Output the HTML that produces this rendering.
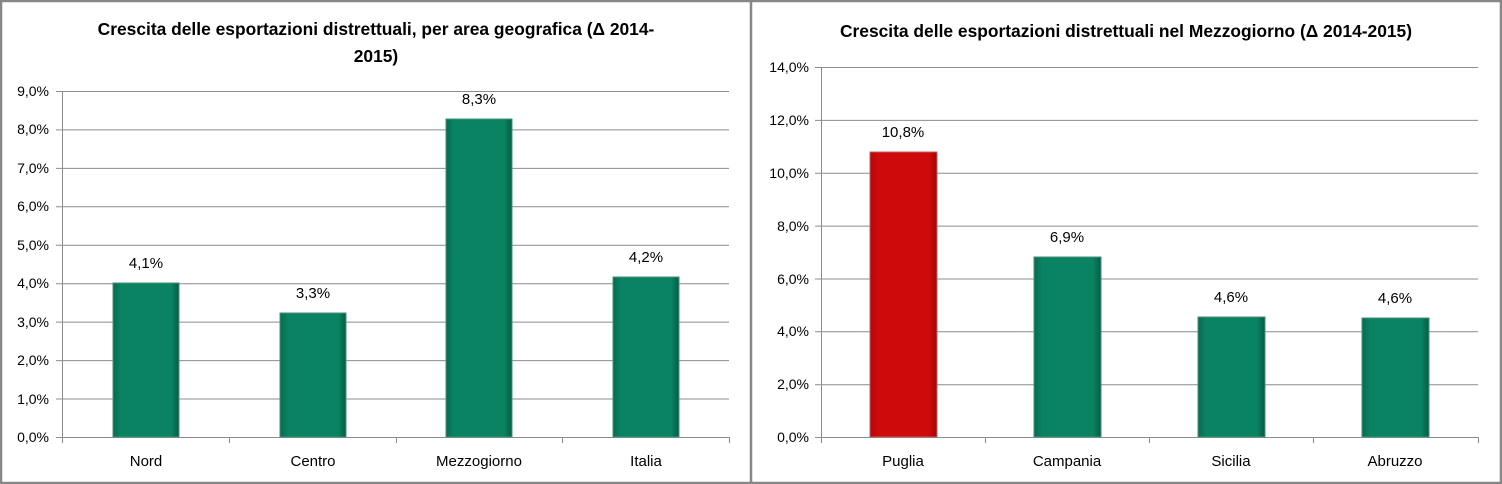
<!DOCTYPE html>
<html><head><meta charset="utf-8"><style>
html,body{margin:0;padding:0;background:#fff}
svg{display:block}
text{font-family:"Liberation Sans",sans-serif;fill:#000}
</style></head><body>
<svg width="1502" height="484" viewBox="0 0 1502 484" xmlns="http://www.w3.org/2000/svg">
<defs>
<linearGradient id="g" x1="0" x2="1" y1="0" y2="0">
<stop offset="0" stop-color="#066b4f"/><stop offset="0.12" stop-color="#0a8363"/><stop offset="0.88" stop-color="#0a8363"/><stop offset="1" stop-color="#055c44"/>
</linearGradient>
<linearGradient id="r" x1="0" x2="1" y1="0" y2="0">
<stop offset="0" stop-color="#b30808"/><stop offset="0.12" stop-color="#cf0a0a"/><stop offset="0.88" stop-color="#cf0a0a"/><stop offset="1" stop-color="#a00707"/>
</linearGradient>
</defs>
<rect x="1" y="1" width="1500" height="482" fill="#fff" stroke="#878787" stroke-width="2.5"/>
<line x1="751" y1="0" x2="751" y2="484" stroke="#878787" stroke-width="2.5"/>

<!-- LEFT -->
<g font-size="17.4" font-weight="bold" text-anchor="middle">
<text x="376" y="35">Crescita delle esportazioni distrettuali, per area geografica (Δ 2014-</text>
<text x="376" y="62">2015)</text>
</g>
<g stroke="#8c8c8c" stroke-width="1">
<line x1="56" y1="91.5" x2="729" y2="91.5"/>
<line x1="56" y1="129.9" x2="729" y2="129.9"/>
<line x1="56" y1="168.4" x2="729" y2="168.4"/>
<line x1="56" y1="206.8" x2="729" y2="206.8"/>
<line x1="56" y1="245.2" x2="729" y2="245.2"/>
<line x1="56" y1="283.7" x2="729" y2="283.7"/>
<line x1="56" y1="322.1" x2="729" y2="322.1"/>
<line x1="56" y1="360.6" x2="729" y2="360.6"/>
<line x1="56" y1="399" x2="729" y2="399"/>
<line x1="56" y1="437.5" x2="729" y2="437.5"/>
<line x1="62.5" y1="91" x2="62.5" y2="443"/>
<line x1="229.5" y1="437" x2="229.5" y2="443"/>
<line x1="396.5" y1="437" x2="396.5" y2="443"/>
<line x1="562.5" y1="437" x2="562.5" y2="443"/>
<line x1="729.5" y1="437" x2="729.5" y2="443"/>
</g>
<g font-size="14" text-anchor="end">
<text x="49" y="96">9,0%</text><text x="49" y="134">8,0%</text><text x="49" y="173">7,0%</text>
<text x="49" y="211">6,0%</text><text x="49" y="250">5,0%</text><text x="49" y="288">4,0%</text>
<text x="49" y="327">3,0%</text><text x="49" y="365">2,0%</text><text x="49" y="404">1,0%</text>
<text x="49" y="442">0,0%</text>
</g>
<g stroke="#4a8f7a" stroke-width="1">
<rect x="113" y="283" width="66" height="154" fill="url(#g)"/>
<rect x="280" y="313" width="66" height="124" fill="url(#g)"/>
<rect x="446" y="119" width="66" height="318" fill="url(#g)"/>
<rect x="613" y="277" width="66" height="160" fill="url(#g)"/>
</g>
<g font-size="15" text-anchor="middle">
<text x="146" y="268">4,1%</text><text x="313" y="298">3,3%</text>
<text x="479" y="104">8,3%</text><text x="646" y="262">4,2%</text>
<text x="146" y="466">Nord</text><text x="313" y="466">Centro</text>
<text x="479" y="466">Mezzogiorno</text><text x="646" y="466">Italia</text>
</g>

<!-- RIGHT -->
<text x="1126" y="37" font-size="17.4" font-weight="bold" text-anchor="middle">Crescita delle esportazioni distrettuali nel Mezzogiorno (Δ 2014-2015)</text>
<g stroke="#8c8c8c" stroke-width="1">
<line x1="815" y1="67.5" x2="1478" y2="67.5"/>
<line x1="815" y1="120.4" x2="1478" y2="120.4"/>
<line x1="815" y1="173.2" x2="1478" y2="173.2"/>
<line x1="815" y1="226.1" x2="1478" y2="226.1"/>
<line x1="815" y1="279" x2="1478" y2="279"/>
<line x1="815" y1="331.8" x2="1478" y2="331.8"/>
<line x1="815" y1="384.7" x2="1478" y2="384.7"/>
<line x1="815" y1="437.5" x2="1478" y2="437.5"/>
<line x1="821.5" y1="67" x2="821.5" y2="443"/>
<line x1="985.5" y1="437" x2="985.5" y2="443"/>
<line x1="1149.5" y1="437" x2="1149.5" y2="443"/>
<line x1="1313.5" y1="437" x2="1313.5" y2="443"/>
<line x1="1478.5" y1="437" x2="1478.5" y2="443"/>
</g>
<g font-size="14" text-anchor="end">
<text x="809" y="72">14,0%</text><text x="809" y="125">12,0%</text><text x="809" y="178">10,0%</text>
<text x="809" y="231">8,0%</text><text x="809" y="284">6,0%</text><text x="809" y="336">4,0%</text>
<text x="809" y="389">2,0%</text><text x="809" y="442">0,0%</text>
</g>
<g stroke-width="1">
<rect x="870" y="152" width="67" height="285" fill="url(#r)" stroke="#c06060"/>
<rect x="1034" y="257" width="67" height="180" fill="url(#g)" stroke="#4a8f7a"/>
<rect x="1198" y="317" width="67" height="120" fill="url(#g)" stroke="#4a8f7a"/>
<rect x="1362" y="318" width="67" height="119" fill="url(#g)" stroke="#4a8f7a"/>
</g>
<g font-size="15" text-anchor="middle">
<text x="903" y="137">10,8%</text><text x="1067" y="242">6,9%</text>
<text x="1231" y="302">4,6%</text><text x="1395" y="303">4,6%</text>
<text x="903" y="466">Puglia</text><text x="1067" y="466">Campania</text>
<text x="1231" y="466">Sicilia</text><text x="1395" y="466">Abruzzo</text>
</g>
</svg>
</body></html>
